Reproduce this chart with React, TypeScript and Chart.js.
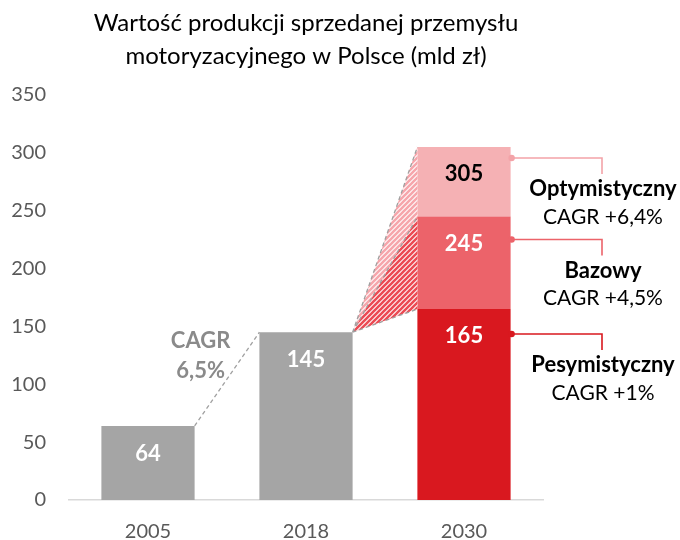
import React, { useEffect, useRef } from "react";
import { Chart, registerables } from "chart.js";

Chart.register(...registerables);

const categories = ["2005", "2018", "2030"];
const historicalValues = [64, 145];
// 2030 scenario totals: pesymistyczny, bazowy, optymistyczny
const scenarioTotals = [165, 245, 305];
const scenarioNames = ["Pesymistyczny", "Bazowy", "Optymistyczny"];
const scenarioCagr = ["CAGR +1%", "CAGR +4,5%", "CAGR +6,4%"];
const historicalCagr = ["CAGR", "6,5%"];
const titleLines = [
  "Wartość produkcji sprzedanej przemysłu",
  "motoryzacyjnego w Polsce (mld zł)",
];
const yMin = 0;
const yMax = 350;
const yStep = 50;

const FONT = "Lato, 'Open Sans', sans-serif";
const GRAY = "#a5a5a5";
const SCEN_COLORS = ["#d9181f", "#ec636a", "#f5b1b4"];
const LEADER_COLORS = ["#d9181f", "#ec636a", "#f3a3a8"];
const HATCH_COLORS = ["#eb4b54", "#f6a6ac"];
const LABEL_COLORS = ["#ffffff", "#ffffff", "#000000"];

function makeHatch(ctx: CanvasRenderingContext2D, color: string) {
  const s = 5;
  const c = document.createElement("canvas");
  c.width = s;
  c.height = s;
  const g = c.getContext("2d")!;
  g.fillStyle = "#ffffff";
  g.fillRect(0, 0, s, s);
  g.strokeStyle = color;
  g.lineWidth = 2.6;
  g.beginPath();
  g.moveTo(-2, s + 2);
  g.lineTo(s + 2, -2);
  g.moveTo(-2, 2);
  g.lineTo(2, -2);
  g.moveTo(s - 2, s + 2);
  g.lineTo(s + 2, s - 2);
  g.stroke();
  return ctx.createPattern(c, "repeat")!;
}

const overlayPlugin = {
  id: "overlay",
  afterDatasetsDraw(chart: any) {
    const ctx: CanvasRenderingContext2D = chart.ctx;
    const y = chart.scales.y;
    const area = chart.chartArea;
    const m0 = chart.getDatasetMeta(0).data;
    const bar05 = m0[0];
    const bar18 = m0[1];
    const bar30 = m0[2];
    const r05 = bar05.x + bar05.width / 2;
    const l18 = bar18.x - bar18.width / 2;
    const r18 = bar18.x + bar18.width / 2;
    const l30 = bar30.x - bar30.width / 2;
    const r30 = bar30.x + bar30.width / 2;
    const apexY = y.getPixelForValue(historicalValues[1]);
    const py = scenarioTotals.map((v) => y.getPixelForValue(v));

    ctx.save();
    // hatched fan
    const tris = [
      [py[1], py[0], HATCH_COLORS[0]],
      [py[2], py[1], HATCH_COLORS[1]],
    ] as [number, number, string][];
    tris.forEach(([a, b, col]) => {
      ctx.fillStyle = makeHatch(ctx, col);
      ctx.beginPath();
      ctx.moveTo(r18, apexY);
      ctx.lineTo(l30, a);
      ctx.lineTo(l30, b);
      ctx.closePath();
      ctx.fill();
    });
    // dashed lines
    ctx.strokeStyle = "#a0a0a0";
    ctx.lineWidth = 1.3;
    ctx.setLineDash([4, 3]);
    ctx.beginPath();
    ctx.moveTo(r05, y.getPixelForValue(historicalValues[0]));
    ctx.lineTo(l18, apexY);
    py.forEach((p) => {
      ctx.moveTo(r18, apexY);
      ctx.lineTo(l30, p);
    });
    ctx.stroke();
    ctx.setLineDash([]);

    // value labels
    ctx.textAlign = "center";
    ctx.textBaseline = "middle";
    ctx.font = `bold 22px ${FONT}`;
    ctx.fillStyle = "#ffffff";
    historicalValues.forEach((v, i) => {
      ctx.fillText(String(v), m0[i].x, y.getPixelForValue(v) + 28);
    });
    scenarioTotals.forEach((v, i) => {
      ctx.fillStyle = LABEL_COLORS[i];
      ctx.fillText(String(v), bar30.x, py[i] + 27);
    });

    // historical CAGR
    ctx.fillStyle = "#8a8a8a";
    ctx.font = `bold 22px ${FONT}`;
    const cx = r05 + 6;
    ctx.fillText(historicalCagr[0], cx, apexY + 9);
    ctx.fillText(historicalCagr[1], cx, apexY + 39);

    // leaders and scenario annotations
    const leaderOffset = [25, 23, 11];
    const textX = area.right + 60;
    scenarioTotals.forEach((_, i) => {
      const ly = py[i] + leaderOffset[i];
      ctx.strokeStyle = LEADER_COLORS[i];
      ctx.fillStyle = LEADER_COLORS[i];
      ctx.lineWidth = 1.6;
      ctx.beginPath();
      ctx.moveTo(r30, ly);
      ctx.lineTo(textX - 1, ly);
      ctx.lineTo(textX - 1, ly + 16);
      ctx.stroke();
      ctx.beginPath();
      ctx.arc(r30 + 1, ly, 3.2, 0, Math.PI * 2);
      ctx.fill();
      ctx.fillStyle = "#000000";
      ctx.font = `bold 22px ${FONT}`;
      ctx.fillText(scenarioNames[i], textX, ly + 31);
      ctx.font = `21px ${FONT}`;
      ctx.fillText(scenarioCagr[i], textX, ly + 59);
    });

    // title
    ctx.fillStyle = "#000000";
    ctx.font = `24px ${FONT}`;
    const tx = (area.left + area.right) / 2;
    ctx.fillText(titleLines[0], tx, 23);
    ctx.fillText(titleLines[1], tx, 56);
    ctx.restore();
  },
};

export default function App() {
  const ref = useRef<HTMLCanvasElement>(null);
  useEffect(() => {
    const base = [historicalValues[0], historicalValues[1], scenarioTotals[0]];
    const mid = [null, null, scenarioTotals[1] - scenarioTotals[0]];
    const top = [null, null, scenarioTotals[2] - scenarioTotals[1]];
    const chart = new Chart(ref.current!, {
      type: "bar",
      data: {
        labels: categories,
        datasets: [
          { data: base, backgroundColor: [GRAY, GRAY, SCEN_COLORS[0]] },
          { data: mid as any, backgroundColor: SCEN_COLORS[1] },
          { data: top as any, backgroundColor: SCEN_COLORS[2] },
        ],
      },
      options: {
        responsive: false,
        animation: false,
        datasets: { bar: { barPercentage: 0.59, categoryPercentage: 1 } },
        layout: { padding: { top: 95, right: 137, left: 0, bottom: 0 } },
        plugins: { legend: { display: false }, tooltip: { enabled: false }, title: { display: false } },
        scales: {
          x: {
            stacked: true,
            grid: { display: false, drawTicks: false },
            border: { display: true, color: "#d9d9d9", width: 1.5 },
            ticks: { color: "#595959", font: { family: FONT, size: 20 }, padding: 20 },
            afterFit: (s: any) => {
              s.height = 40;
            },
          },
          y: {
            stacked: true,
            min: yMin,
            max: yMax,
            grid: { display: false, drawTicks: false },
            border: { display: false },
            ticks: { stepSize: yStep, color: "#595959", font: { family: FONT, size: 20 }, padding: 23 },
            afterFit: (s: any) => {
              s.width = 69;
            },
          },
        },
      },
      plugins: [overlayPlugin],
    });
    return () => chart.destroy();
  }, []);
  return (
    <div style={{ position: "absolute", left: 0, top: 0, width: 680, height: 540, background: "#fff" }}>
      <canvas ref={ref} width={680} height={540} />
    </div>
  );
}
